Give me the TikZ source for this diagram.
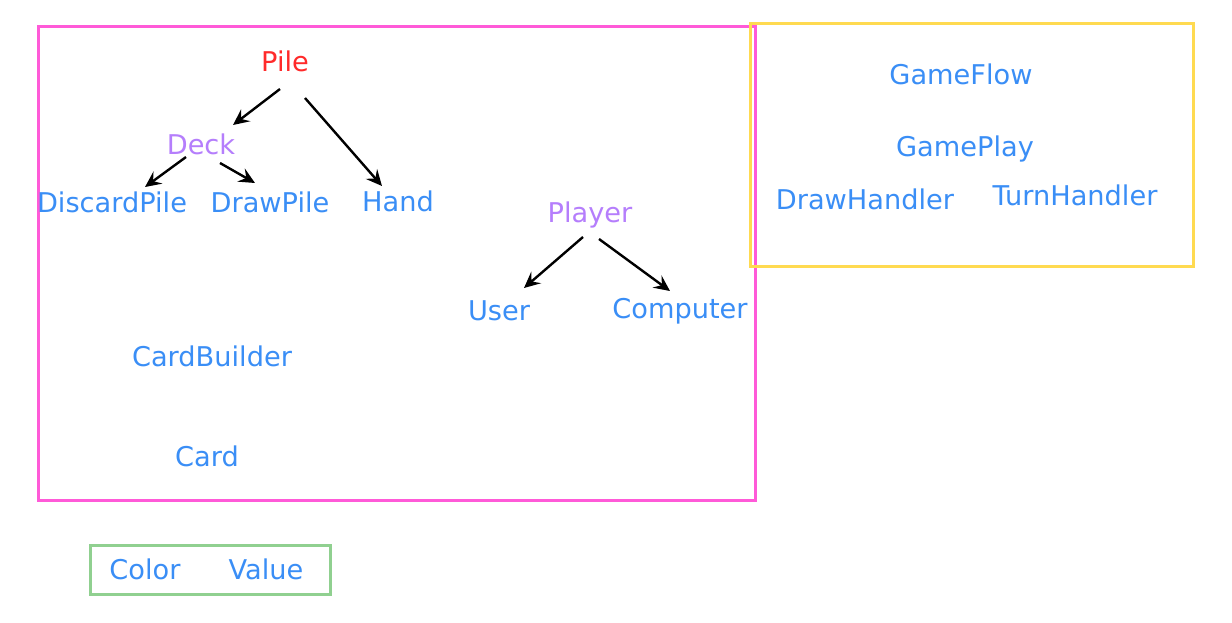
\documentclass[tikz,border=0pt]{standalone}
\usepackage{fontspec}
\setmainfont{DejaVu Sans}
\usetikzlibrary{arrows.meta}
\definecolor{cblue}{HTML}{3A8EF6}
\definecolor{cred}{HTML}{FF2A2A}
\definecolor{cpurple}{HTML}{B57EFC}
\definecolor{cmagenta}{HTML}{FF5AD8}
\definecolor{cyellow}{HTML}{FFDA50}
\definecolor{cgreen}{HTML}{90D090}
\tikzset{
  lbl/.style={inner sep=0pt, font=\fontsize{27.2}{30}\selectfont, text height=19.8pt, text depth=0pt},
  cls/.style={lbl, text=cblue},
  abs/.style={lbl, text=cpurple},
  root/.style={lbl, text=cred},
  arr/.style={line width=2.4pt, -{Stealth[length=16pt,width=15pt,inset=6pt]}},
  frame/.style={line width=2.6pt}
}
\begin{document}
\begin{tikzpicture}[x=1pt,y=-1pt]
\useasboundingbox (0,0) rectangle (1232,622);
\fill[white] (0,0) rectangle (1232,622);
\node[frame, draw=cmagenta, minimum width=717pt, minimum height=474pt, anchor=north west, inner sep=0pt] (pkg) at (37,25) {};
\node[frame, draw=cyellow, minimum width=443pt, minimum height=243pt, anchor=north west, inner sep=0pt] (game) at (749,22) {};
\node[frame, draw=cgreen, minimum width=240pt, minimum height=49pt, anchor=north west, inner sep=0pt] (enums) at (89,544) {};

\node[root] (pile) at (285,62) {Pile};
\node[abs] (deck) at (201,145) {Deck};
\node[cls] (discard) at (112,203) {DiscardPile};
\node[cls] (drawpile) at (270,203) {DrawPile};
\node[cls] (hand) at (398,202) {Hand};
\node[abs] (player) at (590,213) {Player};
\node[cls] (user) at (499,311) {User};
\node[cls] (computer) at (680,309) {Computer};
\node[cls] (builder) at (212,357) {CardBuilder};
\node[cls] (card) at (207,457) {Card};
\node[cls] (flow) at (961,75) {GameFlow};
\node[cls] (play) at (965,147) {GamePlay};
\node[cls] (drawh) at (865,200) {DrawHandler};
\node[cls] (turnh) at (1075,196) {TurnHandler};
\node[cls] (color) at (145,570) {Color};
\node[cls] (value) at (266,570) {Value};

\draw[arr] ([shift={(-5,27)}]pile.center) -- ([shift={(32,-20)}]deck.center);
\draw[arr] ([shift={(20,36)}]pile.center) -- ([shift={(-16,-16)}]hand.center);
\draw[arr] ([shift={(-15,12)}]deck.center) -- ([shift={(33,-16)}]discard.center);
\draw[arr] ([shift={(19,18)}]deck.center) -- ([shift={(-15,-20)}]drawpile.center);
\draw[arr] ([shift={(-7,24)}]player.center) -- ([shift={(25,-23)}]user.center);
\draw[arr] ([shift={(9,26)}]player.center) -- ([shift={(-10,-18)}]computer.center);
\end{tikzpicture}
\end{document}
